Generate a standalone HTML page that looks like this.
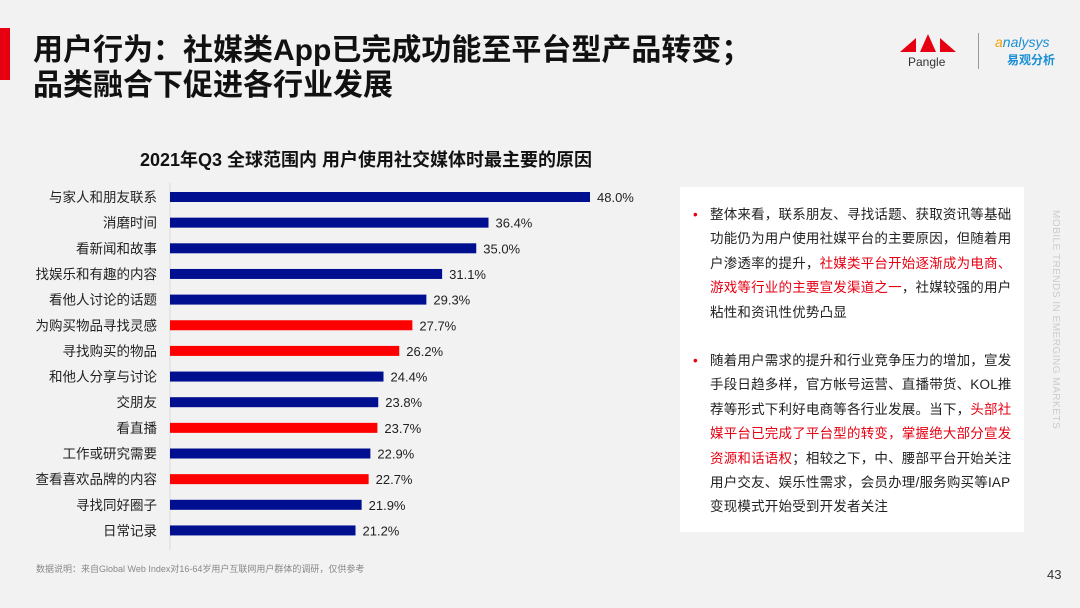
<!DOCTYPE html>
<html><head><meta charset="utf-8">
<style>
body{margin:0;width:1080px;height:608px;background:#f2f2f2;font-family:"Liberation Sans","Noto Sans CJK SC",sans-serif;position:relative;overflow:hidden}
.abs{position:absolute}
</style></head><body>
<div class="abs" style="left:0;top:28px;width:10px;height:52px;background:#e60012"></div>
<div class="abs" style="left:33px;top:33px;font-size:30px;font-weight:bold;line-height:35px;color:#111;white-space:nowrap">用户行为：社媒类App已完成功能至平台型产品转变；<br>品类融合下促进各行业发展</div>
<svg class="abs" style="left:898px;top:30px" width="64" height="40"><polygon points="2,22 18,8 18,22" fill="#e60012"/><polygon points="22,22 30,4 38,22" fill="#e60012"/><polygon points="42,22 42,8 58,22" fill="#e60012"/><text x="10" y="36" font-size="12" fill="#333" font-family="Liberation Sans">Pangle</text></svg>
<div class="abs" style="left:978px;top:33px;width:1px;height:36px;background:#999"></div>
<div class="abs" style="left:995px;top:34px;font-size:14px;color:#1a8fd6;font-style:italic;line-height:17px"><span style="color:#f5a000">a</span>nalysys<br><span style="font-style:normal;font-weight:bold;font-size:12px;padding-left:12px">易观分析</span></div>
<div class="abs" style="left:140px;top:146px;font-size:18px;font-weight:bold;color:#111;white-space:nowrap">2021年Q3 全球范围内 用户使用社交媒体时最主要的原因</div>
<svg class="abs" id="chart" style="left:0;top:180px" width="660" height="370"></svg>
<div class="abs" style="left:680px;top:187px;width:344px;height:345px;background:#fff"></div>
<div class="abs" style="left:697px;top:203px;width:318px;font-size:13.5px;letter-spacing:0.2px;line-height:24.4px;color:#222">
<div style="position:relative;padding-left:13px"><span style="position:absolute;left:-4px;color:#e60012">•</span>整体来看，联系朋友、寻找话题、获取资讯等基础功能仍为用户使用社媒平台的主要原因，但随着用户渗透率的提升，<span style="color:#e60012">社媒类平台开始逐渐成为电商、游戏等行业的主要宣发渠道之一</span>，社媒较强的用户粘性和资讯性优势凸显</div>
<div style="position:relative;padding-left:13px;margin-top:24px"><span style="position:absolute;left:-4px;color:#e60012">•</span>随着用户需求的提升和行业竞争压力的增加，宣发手段日趋多样，官方帐号运营、直播带货、KOL推荐等形式下利好电商等各行业发展。当下，<span style="color:#e60012">头部社媒平台已完成了平台型的转变，掌握绝大部分宣发资源和话语权</span>；相较之下，中、腰部平台开始关注用户交友、娱乐性需求，会员办理/服务购买等IAP变现模式开始受到开发者关注</div>
</div>
<div class="abs" style="left:1050px;top:210px;writing-mode:vertical-rl;font-size:10px;color:#ccc;letter-spacing:0.5px">MOBILE TRENDS IN EMERGING MARKETS</div>
<div class="abs" style="left:36px;top:562px;font-size:9px;color:#888">数据说明：来自Global Web Index对16-64岁用户互联网用户群体的调研，仅供参考</div>
<div class="abs" style="left:1047px;top:567px;font-size:13px;color:#333">43</div>
<script>
const categories=["与家人和朋友联系","消磨时间","看新闻和故事","找娱乐和有趣的内容","看他人讨论的话题","为购买物品寻找灵感","寻找购买的物品","和他人分享与讨论","交朋友","看直播","工作或研究需要","查看喜欢品牌的内容","寻找同好圈子","日常记录"];
const values=[48.0,36.4,35.0,31.1,29.3,27.7,26.2,24.4,23.8,23.7,22.9,22.7,21.9,21.2];
const highlighted=[false,false,false,false,false,true,true,false,false,true,false,true,false,false];
const svg=document.getElementById('chart');
const NS='http://www.w3.org/2000/svg';
const x0=170,scale=420/48,top0=17,step=25.65,bh=10;
const xf=v=>x0+v*scale, yf=i=>top0+i*step;
const ax=document.createElementNS(NS,'line');
ax.setAttribute('x1',x0);ax.setAttribute('x2',x0);ax.setAttribute('y1',3);ax.setAttribute('y2',top0+categories.length*step-4);ax.setAttribute('stroke','#d9d9d9');


svg.appendChild(ax);
categories.forEach((c,i)=>{
 const y=yf(i);
 const r=document.createElementNS(NS,'rect');
 r.setAttribute('x',x0);r.setAttribute('y',y-bh/2);r.setAttribute('width',xf(values[i])-x0);r.setAttribute('height',bh);
 r.setAttribute('fill',highlighted[i]?'#ff0000':'#000f8f');
 
 
 svg.appendChild(r);
 const t=document.createElementNS(NS,'text');
 t.setAttribute('x',157);t.setAttribute('y',y+5);t.setAttribute('text-anchor','end');t.setAttribute('font-size','13.5');t.setAttribute('fill','#222');
 t.textContent=c;
 
 
 svg.appendChild(t);
 const v=document.createElementNS(NS,'text');
 v.setAttribute('x',xf(values[i])+7);v.setAttribute('y',y+5);v.setAttribute('font-size','13');v.setAttribute('fill','#222');
 v.textContent=values[i].toFixed(1)+'%';
 
 
 svg.appendChild(v);
});
</script>
</body></html>
